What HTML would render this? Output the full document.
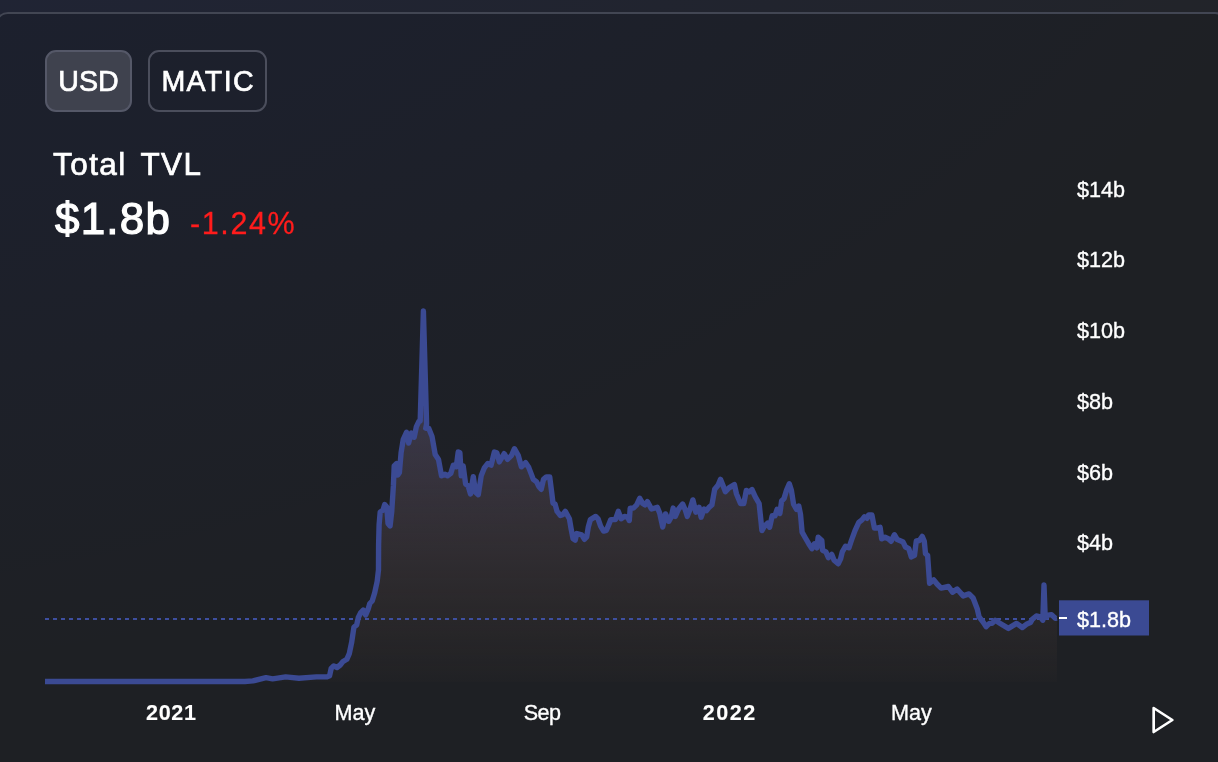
<!DOCTYPE html>
<html lang="en">
<head>
<meta charset="utf-8">
<title>Total TVL</title>
<style>
html,body{margin:0;padding:0;}
body{width:1218px;height:762px;overflow:hidden;position:relative;background:#222429;font-family:"Liberation Sans",Arial,sans-serif;color:#fff;}
.glow{position:absolute;left:0;top:0;width:1218px;height:762px;background:radial-gradient(ellipse 1900px 1300px at -400px -600px, rgba(14,36,151,0.2) 0%, rgba(14,36,151,0) 100%);}
.card{position:absolute;left:-5.5px;top:12px;width:1233.5px;height:800px;box-sizing:border-box;border:2px solid #424653;border-radius:13px;background:rgba(0,0,0,0.1);}
.btn{position:absolute;top:50px;height:62px;box-sizing:border-box;border-radius:11px;border:2px solid #4b4e5c;font-size:28.6px;line-height:58px;text-align:center;color:#fff;-webkit-text-stroke:0.7px #fff;}
.btn.usd{left:45px;width:87px;background:#3f424e;border-color:#555868;}
.btn.matic{left:148px;width:119px;letter-spacing:1.35px;text-indent:1.35px;}
.title{position:absolute;left:53px;top:146px;font-size:31.5px;line-height:36px;white-space:nowrap;-webkit-text-stroke:0.7px #fff;letter-spacing:1.45px;word-spacing:4px;}
.val{position:absolute;left:54.5px;top:193.6px;font-size:44px;line-height:50px;white-space:nowrap;-webkit-text-stroke:1.2px #fff;letter-spacing:1.2px;}
.chg{position:absolute;left:190px;top:205px;font-size:30.5px;line-height:36px;white-space:nowrap;color:#ff1c1c;-webkit-text-stroke:0.3px #ff1c1c;letter-spacing:1.6px;}
svg{position:absolute;left:0;top:0;will-change:transform;}
.btn,.title,.val,.chg{will-change:transform;}
.ax{font-family:"Liberation Sans",Arial,sans-serif;font-size:21.6px;fill:#fff;stroke:#fff;stroke-width:0.35px;}
.ax.b{font-weight:bold;stroke-width:0.1px;}
</style>
</head>
<body>
<div class="glow"></div>
<div class="card"></div>
<div class="btn usd">USD</div>
<div class="btn matic">MATIC</div>
<div class="title">Total TVL</div>
<div class="val">$1.8b</div>
<div class="chg">-1.24%</div>
<svg width="1218" height="762" viewBox="0 0 1218 762">
<defs>
<linearGradient id="ag" gradientUnits="userSpaceOnUse" x1="0" y1="137" x2="0" y2="703">
<stop offset="0" stop-color="#3b4a93" stop-opacity="1"/>
<stop offset="1" stop-color="rgb(112,82,64)" stop-opacity="0"/>
</linearGradient>
</defs>
<path d="M45.0,681.5 L245.0,681.5 L252.9,680.9 L266.0,677.6 L272.6,678.9 L285.7,676.9 L298.9,678.2 L316.4,676.9 L327.1,676.9 L329.6,675.8 L331.2,668.4 L333.7,665.9 L337.0,667.5 L340.2,665.0 L342.7,661.8 L346.8,659.3 L349.3,653.6 L351.7,642.1 L353.9,627.3 L356.7,624.9 L358.3,617.5 L360.8,612.5 L363.2,610.0 L365.7,615.0 L368.1,609.3 L369.8,603.5 L372.2,601.0 L374.7,592.8 L377.2,581.3 L378.5,569.9 L378.6,544.8 L379.1,525.1 L380.2,512.0 L383.0,510.3 L384.7,504.6 L386.8,507.0 L388.0,523.4 L390.1,525.9 L391.7,512.0 L393.4,485.7 L394.2,466.0 L396.7,463.5 L397.8,475.0 L399.4,472.5 L401.1,452.8 L403.2,439.7 L406.5,432.3 L408.6,443.0 L411.4,433.1 L414.2,437.2 L416.4,426.6 L418.8,421.6 L420.2,421.0 L423.4,311.0 L426.6,424.0 L425.7,428.2 L428.7,428.2 L432.0,436.4 L435.2,454.5 L438.5,459.4 L441.5,475.8 L445.1,474.2 L447.5,475.8 L450.8,473.4 L453.3,465.2 L456.3,466.8 L458.2,452.0 L459.9,452.8 L461.2,475.8 L463.2,466.0 L465.6,484.0 L468.1,485.7 L470.5,493.9 L473.3,476.7 L475.5,492.2 L478.3,494.7 L481.2,475.8 L484.5,467.6 L487.8,463.5 L491.1,465.2 L494.4,452.0 L496.8,452.8 L499.3,461.9 L504.2,453.7 L507.5,459.4 L511.6,455.3 L514.4,448.7 L518.2,455.3 L521.4,466.8 L525.6,462.7 L528.8,467.6 L533.3,479.4 L536.6,481.9 L539.0,486.8 L541.2,489.3 L543.5,479.4 L546.4,476.9 L549.7,476.9 L551.3,489.3 L553.0,503.2 L555.0,504.0 L557.1,511.4 L560.4,515.5 L562.8,514.7 L565.3,511.4 L569.4,518.8 L571.1,528.7 L573.0,538.5 L575.2,540.2 L576.8,533.6 L581.7,534.9 L584.5,539.3 L586.7,536.9 L588.3,527.0 L590.4,519.6 L595.7,516.4 L598.1,518.8 L600.6,526.2 L603.6,531.1 L606.4,530.3 L608.8,524.6 L610.8,519.6 L615.4,519.6 L618.3,511.4 L621.1,518.8 L624.4,516.4 L627.7,517.2 L629.3,520.5 L630.2,508.1 L633.4,508.1 L636.7,504.9 L639.7,498.3 L642.5,503.2 L644.9,504.9 L647.4,501.6 L651.5,509.0 L657.3,507.3 L659.7,513.1 L662.7,527.0 L665.5,513.9 L668.8,521.3 L671.2,517.2 L673.2,508.1 L675.3,516.4 L678.6,509.0 L682.7,504.0 L685.2,509.8 L687.3,516.4 L690.1,509.0 L692.9,499.9 L695.8,512.2 L699.1,507.3 L701.1,517.2 L704.1,509.0 L706.5,510.6 L709.0,507.3 L711.9,504.9 L714.7,489.3 L718.0,485.2 L720.5,479.4 L722.9,485.2 L725.4,491.7 L729.0,487.9 L734.4,484.6 L736.4,493.7 L740.5,503.5 L743.8,503.5 L746.3,490.4 L749.2,492.0 L752.0,489.6 L755.3,496.9 L759.1,503.5 L761.1,522.4 L761.9,530.6 L764.3,526.5 L767.6,523.2 L769.6,527.3 L772.2,515.8 L775.0,515.8 L777.1,509.3 L779.9,513.4 L781.6,501.0 L784.0,498.6 L786.5,490.4 L789.3,483.8 L791.4,490.4 L793.6,504.3 L796.4,509.3 L798.8,506.0 L800.5,514.2 L802.1,532.2 L805.4,538.0 L808.7,543.7 L812.0,548.7 L814.4,543.7 L816.9,547.8 L818.2,537.2 L821.8,540.5 L822.6,550.3 L825.9,551.9 L828.4,557.7 L831.7,554.4 L834.1,560.2 L838.2,563.8 L840.7,558.5 L842.3,551.9 L845.6,546.2 L848.9,547.8 L851.4,540.5 L855.0,530.6 L858.8,522.4 L862.0,519.9 L864.5,516.7 L867.0,518.3 L868.6,515.0 L871.9,515.0 L874.4,528.1 L876.8,528.1 L880.1,527.3 L881.7,538.8 L885.0,537.2 L888.3,538.8 L891.1,541.3 L894.4,534.7 L897.3,539.6 L903.1,542.1 L905.5,547.0 L908.8,548.7 L911.3,556.9 L914.5,555.3 L916.3,541.0 L919.4,540.5 L922.2,536.4 L924.3,541.3 L925.5,553.7 L927.6,555.3 L928.7,570.9 L929.6,583.2 L933.7,579.9 L937.0,584.0 L941.1,588.1 L948.4,586.5 L952.5,592.2 L957.1,589.0 L963.2,595.9 L969.0,593.9 L973.1,598.0 L977.2,608.7 L979.1,616.9 L982.9,621.8 L986.2,626.7 L989.5,623.4 L992.0,623.4 L995.2,620.2 L1000.2,623.4 L1008.4,628.4 L1016.6,623.4 L1022.3,627.5 L1026.4,624.3 L1030.5,622.6 L1032.2,619.3 L1036.3,616.0 L1040.4,616.9 L1042.8,620.2 L1044.0,585.0 L1045.2,617.5 L1048.0,615.2 L1051.5,614.6 L1055.4,618.4 L1057.0,618.1 L1057.0,682 L45,682 Z" fill="url(#ag)" stroke="none"/>
<line x1="45" y1="619" x2="1057" y2="619" stroke="#3e4fa0" stroke-width="2" stroke-dasharray="4 4"/>
<path d="M45.0,681.5 L245.0,681.5 L252.9,680.9 L266.0,677.6 L272.6,678.9 L285.7,676.9 L298.9,678.2 L316.4,676.9 L327.1,676.9 L329.6,675.8 L331.2,668.4 L333.7,665.9 L337.0,667.5 L340.2,665.0 L342.7,661.8 L346.8,659.3 L349.3,653.6 L351.7,642.1 L353.9,627.3 L356.7,624.9 L358.3,617.5 L360.8,612.5 L363.2,610.0 L365.7,615.0 L368.1,609.3 L369.8,603.5 L372.2,601.0 L374.7,592.8 L377.2,581.3 L378.5,569.9 L378.6,544.8 L379.1,525.1 L380.2,512.0 L383.0,510.3 L384.7,504.6 L386.8,507.0 L388.0,523.4 L390.1,525.9 L391.7,512.0 L393.4,485.7 L394.2,466.0 L396.7,463.5 L397.8,475.0 L399.4,472.5 L401.1,452.8 L403.2,439.7 L406.5,432.3 L408.6,443.0 L411.4,433.1 L414.2,437.2 L416.4,426.6 L418.8,421.6 L420.2,421.0 L423.4,311.0 L426.6,424.0 L425.7,428.2 L428.7,428.2 L432.0,436.4 L435.2,454.5 L438.5,459.4 L441.5,475.8 L445.1,474.2 L447.5,475.8 L450.8,473.4 L453.3,465.2 L456.3,466.8 L458.2,452.0 L459.9,452.8 L461.2,475.8 L463.2,466.0 L465.6,484.0 L468.1,485.7 L470.5,493.9 L473.3,476.7 L475.5,492.2 L478.3,494.7 L481.2,475.8 L484.5,467.6 L487.8,463.5 L491.1,465.2 L494.4,452.0 L496.8,452.8 L499.3,461.9 L504.2,453.7 L507.5,459.4 L511.6,455.3 L514.4,448.7 L518.2,455.3 L521.4,466.8 L525.6,462.7 L528.8,467.6 L533.3,479.4 L536.6,481.9 L539.0,486.8 L541.2,489.3 L543.5,479.4 L546.4,476.9 L549.7,476.9 L551.3,489.3 L553.0,503.2 L555.0,504.0 L557.1,511.4 L560.4,515.5 L562.8,514.7 L565.3,511.4 L569.4,518.8 L571.1,528.7 L573.0,538.5 L575.2,540.2 L576.8,533.6 L581.7,534.9 L584.5,539.3 L586.7,536.9 L588.3,527.0 L590.4,519.6 L595.7,516.4 L598.1,518.8 L600.6,526.2 L603.6,531.1 L606.4,530.3 L608.8,524.6 L610.8,519.6 L615.4,519.6 L618.3,511.4 L621.1,518.8 L624.4,516.4 L627.7,517.2 L629.3,520.5 L630.2,508.1 L633.4,508.1 L636.7,504.9 L639.7,498.3 L642.5,503.2 L644.9,504.9 L647.4,501.6 L651.5,509.0 L657.3,507.3 L659.7,513.1 L662.7,527.0 L665.5,513.9 L668.8,521.3 L671.2,517.2 L673.2,508.1 L675.3,516.4 L678.6,509.0 L682.7,504.0 L685.2,509.8 L687.3,516.4 L690.1,509.0 L692.9,499.9 L695.8,512.2 L699.1,507.3 L701.1,517.2 L704.1,509.0 L706.5,510.6 L709.0,507.3 L711.9,504.9 L714.7,489.3 L718.0,485.2 L720.5,479.4 L722.9,485.2 L725.4,491.7 L729.0,487.9 L734.4,484.6 L736.4,493.7 L740.5,503.5 L743.8,503.5 L746.3,490.4 L749.2,492.0 L752.0,489.6 L755.3,496.9 L759.1,503.5 L761.1,522.4 L761.9,530.6 L764.3,526.5 L767.6,523.2 L769.6,527.3 L772.2,515.8 L775.0,515.8 L777.1,509.3 L779.9,513.4 L781.6,501.0 L784.0,498.6 L786.5,490.4 L789.3,483.8 L791.4,490.4 L793.6,504.3 L796.4,509.3 L798.8,506.0 L800.5,514.2 L802.1,532.2 L805.4,538.0 L808.7,543.7 L812.0,548.7 L814.4,543.7 L816.9,547.8 L818.2,537.2 L821.8,540.5 L822.6,550.3 L825.9,551.9 L828.4,557.7 L831.7,554.4 L834.1,560.2 L838.2,563.8 L840.7,558.5 L842.3,551.9 L845.6,546.2 L848.9,547.8 L851.4,540.5 L855.0,530.6 L858.8,522.4 L862.0,519.9 L864.5,516.7 L867.0,518.3 L868.6,515.0 L871.9,515.0 L874.4,528.1 L876.8,528.1 L880.1,527.3 L881.7,538.8 L885.0,537.2 L888.3,538.8 L891.1,541.3 L894.4,534.7 L897.3,539.6 L903.1,542.1 L905.5,547.0 L908.8,548.7 L911.3,556.9 L914.5,555.3 L916.3,541.0 L919.4,540.5 L922.2,536.4 L924.3,541.3 L925.5,553.7 L927.6,555.3 L928.7,570.9 L929.6,583.2 L933.7,579.9 L937.0,584.0 L941.1,588.1 L948.4,586.5 L952.5,592.2 L957.1,589.0 L963.2,595.9 L969.0,593.9 L973.1,598.0 L977.2,608.7 L979.1,616.9 L982.9,621.8 L986.2,626.7 L989.5,623.4 L992.0,623.4 L995.2,620.2 L1000.2,623.4 L1008.4,628.4 L1016.6,623.4 L1022.3,627.5 L1026.4,624.3 L1030.5,622.6 L1032.2,619.3 L1036.3,616.0 L1040.4,616.9 L1042.8,620.2 L1044.0,585.0 L1045.2,617.5 L1048.0,615.2 L1051.5,614.6 L1055.4,618.4 L1057.0,618.1" fill="none" stroke="#3b4a93" stroke-width="5.4" stroke-linejoin="round" stroke-linecap="butt"/>
<rect x="1059" y="600.3" width="90" height="35.2" fill="#3b4a93"/>
<rect x="1059" y="617" width="8" height="2" fill="#fff"/>
<text x="1077" y="626.5" class="ax">$1.8b</text>
<text x="1077" y="196.7" class="ax">$14b</text>
<text x="1077" y="267.4" class="ax">$12b</text>
<text x="1077" y="338.1" class="ax">$10b</text>
<text x="1077" y="408.8" class="ax">$8b</text>
<text x="1077" y="479.5" class="ax">$6b</text>
<text x="1077" y="550.2" class="ax">$4b</text>
<text x="171.3" y="719.8" text-anchor="middle" class="ax b" letter-spacing="0.6">2021</text>
<text x="354.8" y="719.8" text-anchor="middle" class="ax">May</text>
<text x="542.1" y="719.8" text-anchor="middle" class="ax" letter-spacing="-0.6">Sep</text>
<text x="729.7" y="719.8" text-anchor="middle" class="ax b" letter-spacing="1.5">2022</text>
<text x="911.4" y="719.8" text-anchor="middle" class="ax">May</text>
<g transform="translate(1147,704) scale(1.3333)" fill="none" stroke="#fff" stroke-width="2" stroke-linecap="round" stroke-linejoin="round">
<polygon points="5 3 19 12 5 21 5 3"/>
</g>
</svg>
</body>
</html>
